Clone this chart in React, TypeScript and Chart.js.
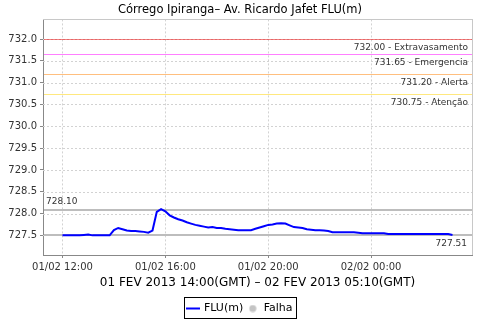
import React, { useEffect, useRef } from 'react';
import { Chart, registerables } from 'chart.js';
Chart.register(...registerables);

const FONT = 'DejaVu Sans';

const chartTitle = 'Córrego Ipiranga– Av. Ricardo Jafet FLU(m)';
const xAxisTitle = '01 FEV 2013 14:00(GMT) – 02 FEV 2013 05:10(GMT)';
const seriesName = 'FLU(m)';
const failName = 'Falha';

const startHour = 12;
const stepMinutes = 10;
const fluValues = [
  727.50, 727.50, 727.50, 727.50, 727.50, 727.51, 727.52, 727.50, 727.50, 727.50,
  727.50, 727.50, 727.62, 727.67, 727.64, 727.61, 727.60, 727.60, 727.59, 727.58,
  727.56, 727.61, 728.04, 728.10, 728.05, 727.96, 727.91, 727.87, 727.84, 727.80,
  727.77, 727.74, 727.72, 727.70, 727.68, 727.69, 727.67, 727.67, 727.65, 727.64,
  727.63, 727.62, 727.62, 727.62, 727.62, 727.65, 727.68, 727.71, 727.74, 727.75,
  727.77, 727.78, 727.77, 727.73, 727.69, 727.68, 727.67, 727.64, 727.63, 727.62,
  727.62, 727.61, 727.60, 727.57, 727.57, 727.57, 727.57, 727.57, 727.57, 727.56,
  727.55, 727.55, 727.55, 727.55, 727.55, 727.55, 727.53, 727.53, 727.53, 727.53,
  727.53, 727.53, 727.53, 727.53, 727.53, 727.53, 727.53, 727.53, 727.53, 727.53,
  727.53, 727.51,
];

const xMin = 11.242;
const xMax = 27.925;
const xTickValues = [12, 16, 20, 24];
const xTickLabels = ['01/02 12:00', '01/02 16:00', '01/02 20:00', '02/02 00:00'];

const yMin = 727.05;
const yMax = 732.45;
const yTickValues = [727.5, 728.0, 728.5, 729.0, 729.5, 730.0, 730.5, 731.0, 731.5, 732.0];

const thresholdValues = [732.0, 731.65, 731.2, 730.75];
const thresholdNames = ['Extravasamento', 'Emergencia', 'Alerta', 'Atenção'];
const thresholdColors = ['rgba(235,0,0,0.5)', 'rgba(255,0,255,0.5)', 'rgba(255,128,0,0.5)', 'rgba(255,210,0,0.5)'];

const maxMarkerValue = 728.10;
const lastMarkerValue = 727.51;

const LEGEND_SHIFT = 4;

function makeLineIcon() {
  const c = document.createElement('canvas');
  c.width = 14; c.height = 4;
  const g = c.getContext('2d')!;
  g.fillStyle = '#0000ff';
  g.fillRect(0, 1, 14, 2);
  return c;
}
function makeDotIcon() {
  const c = document.createElement('canvas');
  c.width = 8; c.height = 8;
  const g = c.getContext('2d')!;
  g.fillStyle = '#c4c4c4';
  g.beginPath();
  g.arc(4, 4, 3.5, 0, Math.PI * 2);
  g.fill();
  return c;
}

function hLine(ctx: CanvasRenderingContext2D, x1: number, x2: number, yy: number, color: string, w: number) {
  ctx.fillStyle = color;
  ctx.fillRect(x1, Math.round(yy - w / 2 + 0.5), x2 - x1, w);
}

const markersPlugin = {
  id: 'markers',
  afterLayout(chart: any) {
    const lg = chart.legend;
    if (lg) { lg.top += LEGEND_SHIFT; lg.bottom += LEGEND_SHIFT; }
  },
  beforeDatasetsDraw(chart: any) {
    const { ctx, chartArea: a, scales } = chart;
    const y = scales.y;
    const x = scales.x;
    ctx.save();
    // dashed grid
    ctx.strokeStyle = '#d2d2d2';
    ctx.lineWidth = 1;
    ctx.setLineDash([2, 2]);
    x.ticks.forEach((t: any) => {
      const px = Math.round(x.getPixelForValue(t.value)) + 0.5;
      ctx.beginPath(); ctx.moveTo(px, a.top); ctx.lineTo(px, a.bottom); ctx.stroke();
    });
    y.ticks.forEach((t: any) => {
      const py = Math.round(y.getPixelForValue(t.value)) + 0.5;
      ctx.beginPath(); ctx.moveTo(a.left, py); ctx.lineTo(a.right, py); ctx.stroke();
    });
    ctx.setLineDash([]);
    ctx.restore();

    ctx.save();
    // frame top and right
    ctx.fillStyle = '#c8c8c8';
    ctx.fillRect(a.left, Math.floor(a.top), a.right - a.left + 1, 1);
    ctx.fillRect(Math.round(a.right), a.top, 1, a.bottom - a.top);

    thresholdValues.forEach((v, i) => {
      hLine(ctx, a.left + 1, a.right, y.getPixelForValue(v), thresholdColors[i], 1);
    });
    hLine(ctx, a.left + 1, a.right, y.getPixelForValue(maxMarkerValue), '#bdbdbd', 2);
    hLine(ctx, a.left + 1, a.right, y.getPixelForValue(lastMarkerValue), '#bdbdbd', 2);

    ctx.font = `9px "${FONT}"`;
    ctx.fillStyle = '#333333';
    ctx.textBaseline = 'top';
    ctx.textAlign = 'right';
    thresholdValues.forEach((v, i) => {
      const py = Math.round(y.getPixelForValue(v));
      ctx.fillText(`${v.toFixed(2)} - ${thresholdNames[i]}`, a.right - 4, py + 4);
    });
    const pMax = Math.round(y.getPixelForValue(maxMarkerValue));
    ctx.textAlign = 'left';
    ctx.textBaseline = 'bottom';
    ctx.fillText(maxMarkerValue.toFixed(2), a.left + 3, pMax - 3);
    const pLast = Math.round(y.getPixelForValue(lastMarkerValue));
    ctx.textAlign = 'right';
    ctx.textBaseline = 'top';
    ctx.fillText(lastMarkerValue.toFixed(2), a.right - 5, pLast + 4);
    ctx.restore();
  },
  afterDraw(chart: any) {
    const lg = chart.legend;
    if (!lg || !lg.legendHitBoxes || !lg.legendHitBoxes.length) return;
    const boxes = lg.legendHitBoxes;
    let l = Infinity, r = -Infinity, t = Infinity, b = -Infinity;
    boxes.forEach((h: any) => {
      l = Math.min(l, h.left); r = Math.max(r, h.left + h.width);
      t = Math.min(t, h.top); b = Math.max(b, h.top + h.height);
    });
    const { ctx } = chart;
    ctx.save();
    ctx.strokeStyle = '#000';
    ctx.lineWidth = 1;
    ctx.strokeRect(Math.round(l - 3) + 0.5, Math.round(t - 6) + 0.5, Math.round(r - l + 7), Math.round(b - t + 10));
    ctx.restore();
  },
};

export default function App() {
  const ref = useRef<HTMLCanvasElement>(null);
  useEffect(() => {
    document.body.style.margin = '0';
    const lineIcon = makeLineIcon();
    const dotIcon = makeDotIcon();
    const points = fluValues.map((v, i) => ({ x: startHour + (i * stepMinutes) / 60, y: v }));
    const chart = new Chart(ref.current!, {
      type: 'line',
      data: {
        datasets: [
          { label: seriesName, data: points, borderColor: '#0000ff', backgroundColor: '#0000ff', borderWidth: 2, pointRadius: 0, tension: 0 },
          { label: failName, data: [], borderColor: '#c4c4c4', backgroundColor: '#c4c4c4', pointRadius: 3 },
        ],
      },
      options: {
        animation: false,
        responsive: false,
        devicePixelRatio: 1,
        layout: { padding: { left: 0, right: 0, top: 0, bottom: 0 } },
        plugins: {
          title: {
            display: true, text: chartTitle, color: '#000',
            font: { family: FONT, size: 11.5, weight: 'normal' },
            padding: { top: 3, bottom: 2.6 },
          },
          legend: {
            position: 'bottom',
            labels: {
              font: { family: FONT, size: 11 }, color: '#000',
              usePointStyle: true, padding: 4,
              generateLabels: () => [
                { text: seriesName, pointStyle: lineIcon, fillStyle: '#0000ff', strokeStyle: '#0000ff', lineWidth: 0, hidden: false, datasetIndex: 0 },
                { text: failName, pointStyle: dotIcon, fillStyle: '#c4c4c4', strokeStyle: '#c4c4c4', lineWidth: 0, hidden: false, datasetIndex: 1 },
              ],
            },
            onClick: () => {},
          },
          tooltip: { enabled: false },
        },
        scales: {
          x: {
            type: 'linear', min: xMin, max: xMax,
            afterBuildTicks: (axis: any) => { axis.ticks = xTickValues.map((v) => ({ value: v })); },
            afterFit: (scale: any) => {
              const lh = scale.chart.legend ? scale.chart.legend.height : 25;
              scale.height = 320 - 255 - lh;
            },
            ticks: {
              color: '#333', font: { family: FONT, size: 10 }, padding: 3, maxRotation: 0,
              callback: (v: any) => { const i = xTickValues.indexOf(v); return i >= 0 ? xTickLabels[i] : ''; },
            },
            grid: { drawOnChartArea: false, tickColor: '#888', tickLength: 3 },
            border: { display: true, color: '#888' },
            title: { display: true, text: xAxisTitle, color: '#000', font: { family: FONT, size: 12 }, padding: { top: 2, bottom: 5 } },
          },
          y: {
            type: 'linear', min: yMin, max: yMax,
            afterBuildTicks: (axis: any) => { axis.ticks = yTickValues.map((v) => ({ value: v })); },
            afterFit: (scale: any) => { scale.width = 43; },
            ticks: {
              color: '#333', font: { family: FONT, size: 10 }, padding: 3,
              callback: (v: any) => Number(v).toFixed(1),
            },
            grid: { drawOnChartArea: false, tickColor: '#888', tickLength: 3 },
            border: { display: true, color: '#888' },
          },
          yRight: {
            type: 'linear', position: 'right', display: true,
            ticks: { display: false },
            grid: { display: false },
            border: { display: false },
            afterFit: (scale: any) => { scale.width = 8; },
          },
        },
      },
      plugins: [markersPlugin],
    } as any);
    return () => chart.destroy();
  }, []);
  return (
    <div style={{ width: 480, height: 320 }}>
      <canvas ref={ref} width={480} height={320} />
    </div>
  );
}
